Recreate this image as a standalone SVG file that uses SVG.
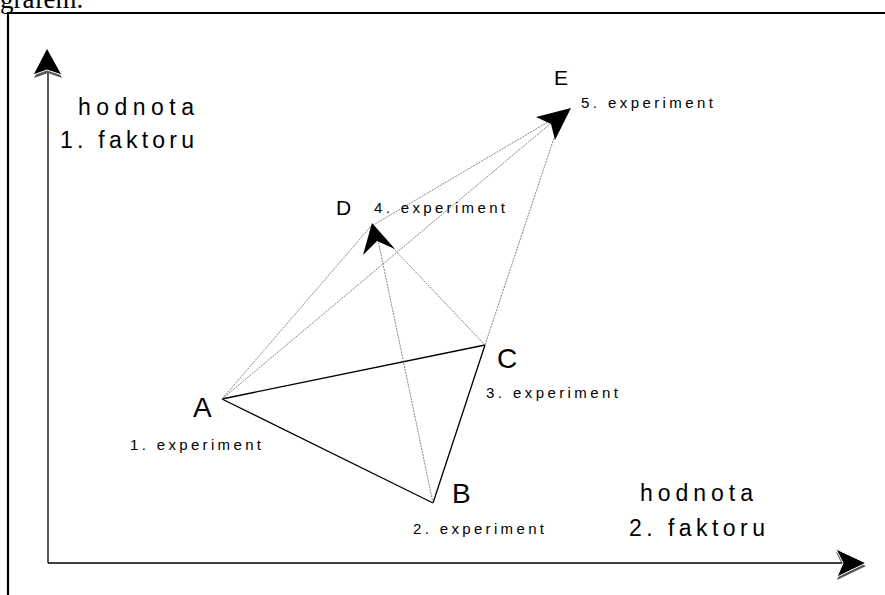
<svg xmlns="http://www.w3.org/2000/svg" width="885" height="595" viewBox="0 0 885 595">
  <style>
    .frame { fill: none; stroke: #000; stroke-width: 2.2; }
    .axis { fill: none; stroke: #000; stroke-width: 1.3; }
    .edge { fill: none; stroke: #000; stroke-width: 1.3; }
    .move { fill: none; stroke: #666; stroke-width: 0.8; stroke-dasharray: 2 1; }
    .head { fill: #000; stroke: none; }
    .head3d { fill: #000; stroke: #fff; stroke-width: 1; }
    .shadow { fill: #555; }
    .axlabel { font-family: "Liberation Sans", Arial, sans-serif; font-size: 23px; fill: #000; }
    .pt { font-family: "Liberation Sans", Arial, sans-serif; font-size: 28px; fill: #000; }
    .pt-small { font-family: "Liberation Sans", Arial, sans-serif; font-size: 21px; fill: #000; }
    .exp { font-family: "Liberation Sans", Arial, sans-serif; font-size: 15px; fill: #000; }
    .caption { font-family: "Liberation Serif", "Times New Roman", serif; font-size: 27px; fill: #000; }
  </style>

  <rect x="0" y="0" width="885" height="595" fill="#fff"/>

  <!-- preceding paragraph text, cut by the page edge -->
  <text class="caption" x="0" y="8">grafem.</text>

  <!-- page frame -->
  <g id="frame">
    <path class="frame" d="M8,595 V13 H885"/>
  </g>

  <!-- factor axes -->
  <g id="axes">
    <path class="axis" d="M48,563 V72"/>
    <path class="axis" d="M48,563 H842"/>
    <polygon class="shadow" points="48,52 62,78 48,73 34,78"/>
    <polygon class="head3d" points="47,48 62,75 47,70 33,75"/>
    <polygon class="shadow" points="866,566 837,580 843,566 836,552"/>
    <polygon class="head3d" points="866,563 837,577 843,563 836,549"/>
    <text class="axlabel" x="78" y="115" textLength="116" lengthAdjust="spacing">hodnota</text>
    <text class="axlabel" x="60" y="148" textLength="134" lengthAdjust="spacing">1. faktoru</text>
    <text class="axlabel" x="640" y="501" textLength="113" lengthAdjust="spacing">hodnota</text>
    <text class="axlabel" x="629" y="536" textLength="136" lengthAdjust="spacing">2. faktoru</text>
  </g>

  <!-- simplex edges and moves to new experiments -->
  <g id="connectors">
    <line class="edge" x1="222" y1="399" x2="433" y2="503"/>
    <line class="edge" x1="222" y1="399" x2="485" y2="345"/>
    <line class="edge" x1="433" y1="503" x2="485" y2="345"/>
    <line class="move" x1="222" y1="399" x2="372" y2="225"/>
    <line class="move" x1="222" y1="399" x2="550" y2="124"/>
    <line class="move" x1="433" y1="503" x2="378" y2="240"/>
    <line class="move" x1="485" y1="345" x2="390" y2="245"/>
    <line class="move" x1="485" y1="345" x2="556" y2="132"/>
    <line class="move" x1="370" y1="227" x2="548" y2="122"/>
  </g>

  <g id="node-A">
    <text class="pt" x="193" y="417">A</text>
    <text class="exp" x="130" y="450" textLength="131" lengthAdjust="spacing">1. experiment</text>
  </g>

  <g id="node-B">
    <text class="pt" x="452" y="503">B</text>
    <text class="exp" x="413" y="534" textLength="131" lengthAdjust="spacing">2. experiment</text>
  </g>

  <g id="node-C">
    <text class="pt" x="497" y="368">C</text>
    <text class="exp" x="486" y="398" textLength="132" lengthAdjust="spacing">3. experiment</text>
  </g>

  <g id="node-D">
    <polygon class="head" points="372,223 395,249 377,241 363,255"/>
    <text class="pt-small" x="336" y="215">D</text>
    <text class="exp" x="374" y="213" textLength="131" lengthAdjust="spacing">4. experiment</text>
  </g>

  <g id="node-E">
    <polygon class="head" points="571,108 555,140 551,124 536,117"/>
    <text class="pt-small" x="554" y="85">E</text>
    <text class="exp" x="581" y="108" textLength="132" lengthAdjust="spacing">5. experiment</text>
  </g>
</svg>
